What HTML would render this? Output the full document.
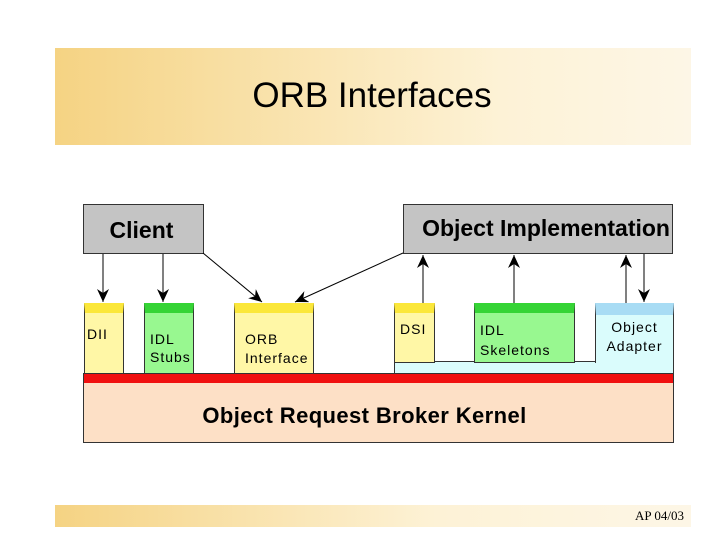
<!DOCTYPE html>
<html><head><style>
body{margin:0;width:720px;height:540px;background:#fff;position:relative;font-family:"Liberation Sans",sans-serif;overflow:hidden}
.a{position:absolute;box-sizing:border-box}
</style></head><body>
<div class="a" style="left:55px;top:48px;width:636px;height:97px;background:linear-gradient(90deg,#f5d383,#fdf2d6 70%,#fdf6e6)"></div>
<div class="a" style="left:55px;top:76px;width:636px;text-align:center;font-size:35px;color:#000;padding-left:0;padding-right:2px">ORB Interfaces</div>
<div class="a" style="left:55px;top:505px;width:636px;height:22px;background:linear-gradient(90deg,#f5d383,#fdf2d6 60%,#fdf6e6)"></div>
<div class="a" style="left:600px;top:508px;width:84px;text-align:right;font-family:'Liberation Serif',serif;font-size:13px">AP 04/03</div>

<div class="a" style="left:83px;top:204px;width:121px;height:50px;background:#c4c4c4;border:1px solid #333;font-size:23px;font-weight:bold;text-align:center;line-height:50px;padding-right:4px">Client</div>
<div class="a" style="left:403px;top:204px;width:270px;height:50px;background:#c4c4c4;border:1px solid #333;font-size:23px;font-weight:bold;text-align:right;line-height:46px;padding-right:2px;white-space:nowrap">Object Implementation</div>

<div class="a" style="left:84px;top:303px;width:40px;height:71px;background:#fff7a6;border:1px solid #333;border-top:10px solid #fbe73a"></div>
<div class="a" style="left:144px;top:303px;width:50px;height:71px;background:#98f890;border:1px solid #333;border-top:10px solid #35d435"></div>
<div class="a" style="left:234px;top:303px;width:80px;height:71px;background:#fff7a6;border:1px solid #333;border-top:10px solid #fbe73a"></div>
<div class="a" style="left:394px;top:361px;width:280px;height:13px;background:#dafcfc;border:1px solid #333"></div>
<div class="a" style="left:394px;top:303px;width:41px;height:60px;background:#fff7a6;border:1px solid #333;border-top:10px solid #fbe73a"></div>
<div class="a" style="left:474px;top:303px;width:101px;height:60px;background:#98f890;border:1px solid #333;border-top:10px solid #35d435"></div>
<div class="a" style="left:595px;top:303px;width:79px;height:60px;background:#dafcfc;border:1px solid #333;border-bottom:none;border-top:12px solid #a8dcf4"></div>
<div class="a" style="left:596px;top:358px;width:77px;height:6px;background:#dafcfc"></div>

<div class="a" style="left:87px;top:326px;font-size:14px;letter-spacing:1px">DII</div>
<div class="a" style="left:150px;top:330px;font-size:14px;line-height:18px;letter-spacing:1px">IDL<br>Stubs</div>
<div class="a" style="left:245px;top:330px;font-size:14px;line-height:19px;letter-spacing:1px">ORB<br>Interface</div>
<div class="a" style="left:400px;top:321px;font-size:14px;letter-spacing:1px">DSI</div>
<div class="a" style="left:480px;top:320px;font-size:14px;line-height:20px;letter-spacing:1px">IDL<br>Skeletons</div>
<div class="a" style="left:595px;top:318px;width:79px;text-align:center;font-size:14px;line-height:19px;letter-spacing:1px">Object<br>Adapter</div>

<div class="a" style="left:83px;top:373px;width:591px;height:11px;background:#f01010;border:1px solid #333"></div>
<div class="a" style="left:83px;top:383px;width:591px;height:60px;background:#fde0c6;border:1px solid #333;border-top:none;font-size:22px;font-weight:bold;text-align:center;line-height:66px;padding-right:28px;letter-spacing:0.4px">Object Request Broker Kernel</div>

<svg class="a" style="left:0;top:0" width="720" height="540">
<defs><marker id="m" markerWidth="14" markerHeight="12" refX="13" refY="6" orient="auto" markerUnits="userSpaceOnUse"><path d="M0,0 L13,6 L0,12 L4,6 Z" fill="#000"/></marker></defs>
<g stroke="#000" stroke-width="1" marker-end="url(#m)">
<line x1="103" y1="254" x2="103" y2="302"/>
<line x1="163" y1="254" x2="163" y2="302"/>
<line x1="203" y1="253" x2="262" y2="302"/>
<line x1="403" y1="253" x2="295" y2="302"/>
<line x1="423" y1="303" x2="423" y2="255"/>
<line x1="514" y1="303" x2="514" y2="255"/>
<line x1="626" y1="303" x2="626" y2="255"/>
<line x1="644" y1="254" x2="644" y2="302"/>
</g></svg>
</body></html>
